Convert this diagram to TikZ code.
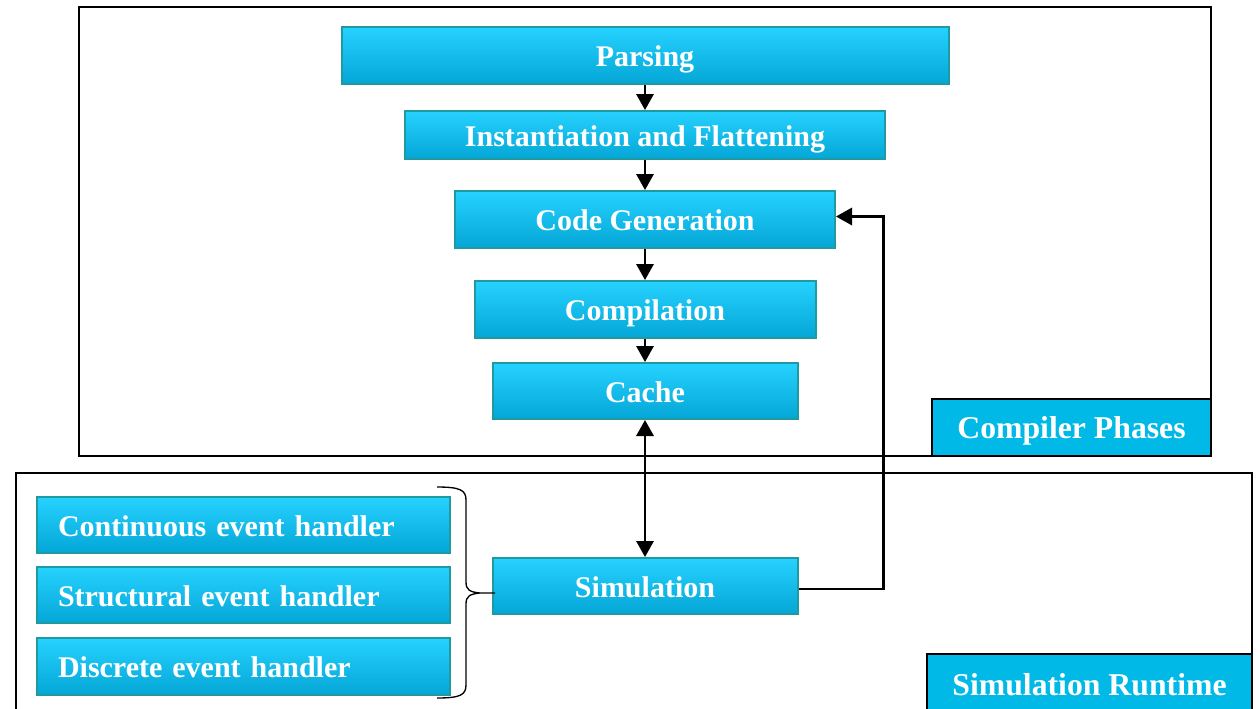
\documentclass[tikz,border=0pt]{standalone}
\usepackage{fontspec}
\setmainfont{Liberation Serif}
\usetikzlibrary{arrows.meta}
\definecolor{boxtop}{RGB}{38,210,255}
\definecolor{boxbot}{RGB}{4,166,214}
\definecolor{boxedge}{RGB}{30,155,160}
\definecolor{labfill}{RGB}{0,185,230}
\begin{document}
\begin{tikzpicture}[x=0.75pt,y=-0.75pt,
  box/.style={draw=boxedge, line width=1.5pt, top color=boxtop, bottom color=boxbot,
    text=white, font=\fontsize{22.5}{26}\selectfont\bfseries, inner sep=0pt,
    text height=16.5pt, text depth=0pt},
  hbox/.style={box, align=left, inner xsep=15.75pt, text width=278.25pt,
    minimum width=309.75pt, minimum height=42pt},
  lab/.style={draw=black, line width=1.8pt, fill=labfill, text=white,
    font=\fontsize{23.8}{28}\selectfont\bfseries, inner sep=0pt,
    text height=17pt, text depth=0pt},
  frame/.style={draw=black, line width=1.8pt},
  tip/.style={},
  arr/.style={-{Triangle[width=13pt,length=12pt]}, line width=1.6pt},
  darr/.style={{Triangle[width=13pt,length=12pt]}-{Triangle[width=13pt,length=12pt]}, line width=1.6pt},
  ]
\useasboundingbox (0,0) rectangle (1260,708);

% frames
\draw[frame] (79,7) rectangle (1211,456);
\draw[frame] (16,720) -- (16,473) -- (1252,473) -- (1252,720);

% compiler phases
\node[box, minimum width=455.25pt, minimum height=42.75pt] (parse) at (645,55.5) {Parsing};
\node[box, minimum width=360pt, minimum height=36pt] (inst) at (645,135) {Instantiation and Flattening};
\node[box, minimum width=285pt, minimum height=42.75pt] (cg) at (645,219.5) {Code Generation};
\node[box, minimum width=255.75pt, minimum height=42.75pt] (comp) at (645,309.5) {Compilation};
\node[box, minimum width=228.75pt, minimum height=42pt] (cache) at (645,391) {Cache};
\node[box, minimum width=228.75pt, minimum height=42pt] (sim) at (645,586) {Simulation};

% handlers
\node[hbox] (ceh) at (243.5,525) {Continuous event handler};
\node[hbox] (seh) at (243.5,595) {Structural event handler};
\node[hbox, minimum height=42.75pt] (deh) at (243.5,666.5) {Discrete event handler};

% labels
\node[lab, minimum width=209.25pt, minimum height=42.75pt] (cp) at (1071.5,427.5) {Compiler Phases};
\node[lab, minimum width=243.75pt, minimum height=45pt] (sr) at (1089.5,684) {Simulation Runtime};

% arrows
\draw[arr] (parse) -- (inst);
\draw[arr] (inst) -- (cg);
\draw[arr] (cg) -- (comp);
\draw[arr] (comp) -- (cache);
\draw[darr] (cache) -- (sim);
\draw[arr] ([yshift=-2.25pt]sim.east) -- ++(85,0) |- ([yshift=2.25pt]cg.east);

% brace
\draw[line width=1pt]
  (437,487) .. controls (460,487) and (466,490) .. (466,500)
  -- (466,582)
  .. controls (466,590) and (470,592) .. (480,593)
  -- (495,593)
  (480,593) .. controls (470,594) and (466,596) .. (466,604)
  -- (466,685)
  .. controls (466,695) and (460,698) .. (437,698);
\end{tikzpicture}
\end{document}
